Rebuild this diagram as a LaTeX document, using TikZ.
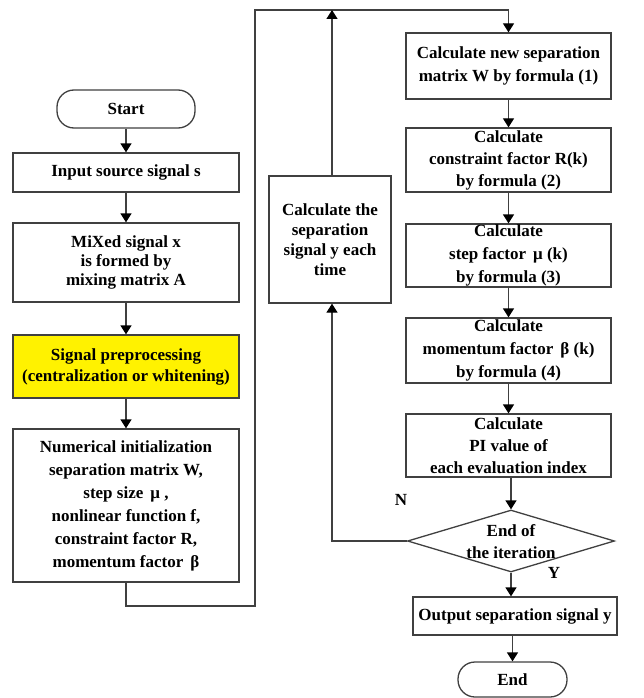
\documentclass[tikz,border=0pt]{standalone}
\usepackage{fontspec}
\setmainfont{Liberation Serif}
\usetikzlibrary{arrows.meta,shapes.geometric}
\begin{document}
\begin{tikzpicture}[x=1pt,y=-1pt,
  box/.style={draw=black!75, line width=1.3pt, fill=white, align=center, inner sep=0pt,
    font=\bfseries\fontsize{17}{21}\selectfont},
  term/.style={box, rounded corners=17pt},
  arr/.style={draw=black!75, line width=1.3pt, -{Triangle[length=9pt,width=11pt,fill=black,color=black]}},
  lbl/.style={font=\bfseries\fontsize{17}{21}\selectfont, inner sep=0pt}]
\useasboundingbox (0,0) rectangle (643,698);
% left column
\node[term, minimum width=138pt, minimum height=38pt] (start) at (126,109) {Start};
\node[box, minimum width=226pt, minimum height=39pt] (input) at (126,172.5) {Input source signal s};
\node[box, minimum width=226pt, minimum height=79pt, font=\bfseries\fontsize{17}{19}\selectfont] (mixed) at (126,262.5) {MiXed signal x\\is formed by\\mixing matrix A};
\node[box, fill=yellow, minimum width=226pt, minimum height=63pt] (prep) at (126,366.5) {Signal preprocessing\\(centralization or whitening)};
\node[box, minimum width=226pt, minimum height=153pt, font=\bfseries\fontsize{17}{23}\selectfont] (init) at (126,505.5) {Numerical initialization\\separation matrix W,\\step size\, μ ,\\nonlinear function f,\\constraint factor R,\\momentum factor\, β};
% middle
\node[box, minimum width=122pt, minimum height=127pt, font=\bfseries\fontsize{17}{20}\selectfont] (calcy) at (330,239.5) {Calculate the\\separation\\signal y each\\time};
% right column
\node[box, minimum width=205pt, minimum height=66pt, font=\bfseries\fontsize{17}{23}\selectfont] (W) at (508.5,66) {Calculate new separation\\matrix W by formula (1)};
\node[box, minimum width=205pt, minimum height=64pt, font=\bfseries\fontsize{17}{22}\selectfont] (R) at (508.5,160) {Calculate\\constraint factor R(k)\\by formula (2)};
\node[box, minimum width=205pt, minimum height=63pt, font=\bfseries\fontsize{17}{23}\selectfont] (mu) at (508.5,255.5) {Calculate\\step factor\, μ (k)\\by formula (3)};
\node[box, minimum width=205pt, minimum height=65pt, font=\bfseries\fontsize{17}{23}\selectfont] (beta) at (508.5,350.5) {Calculate\\momentum factor\, β (k)\\by formula (4)};
\node[box, minimum width=205pt, minimum height=63pt, font=\bfseries\fontsize{17}{22}\selectfont] (PI) at (508.5,445.5) {Calculate\\PI value of\\each evaluation index};
\node[draw=black!75, line width=1.3pt, fill=white, diamond, aspect=3.3, inner sep=0pt, minimum width=207pt, minimum height=62pt] (dec) at (511,541) {};
\node[lbl, align=center, font=\bfseries\fontsize{17}{22}\selectfont] (dect) at (511,542) {End of\\the iteration};
\node[box, minimum width=204pt, minimum height=38pt] (out) at (515,616) {Output separation signal y};
\node[term, minimum width=109pt, minimum height=35pt] (end) at (512.5,679.5) {End};
\node[lbl] (N) at (401,500) {N};
\node[lbl] (Y) at (554,573) {Y};
% connectors
\coordinate (c1) at (126,606);
\coordinate (c2) at (255,606);
\coordinate (c3) at (255,10);
\coordinate (c4) at (332,10);
\coordinate (c5) at (332,541);
\draw[arr] (start) -- (input);
\draw[arr] (input) -- (mixed);
\draw[arr] (mixed) -- (prep);
\draw[arr] (prep) -- (init);
\draw[arr] (init.south) -- (c1) -- (c2) -- (c3) -| (W.north);
\draw[arr] (calcy.north -| c4) -- (c4);
\draw[arr] (dec.west) -- (c5) -- (calcy.south -| c5);
\draw[arr] (W) -- (R);
\draw[arr] (R) -- (mu);
\draw[arr] (mu) -- (beta);
\draw[arr] (beta) -- (PI);
\draw[arr] (PI.south -| dec.north) -- (dec.north);
\draw[arr] (dec.south) -- (dec.south |- out.north);
\draw[arr] (out.south -| end.north) -- (end.north);
\end{tikzpicture}
\end{document}
